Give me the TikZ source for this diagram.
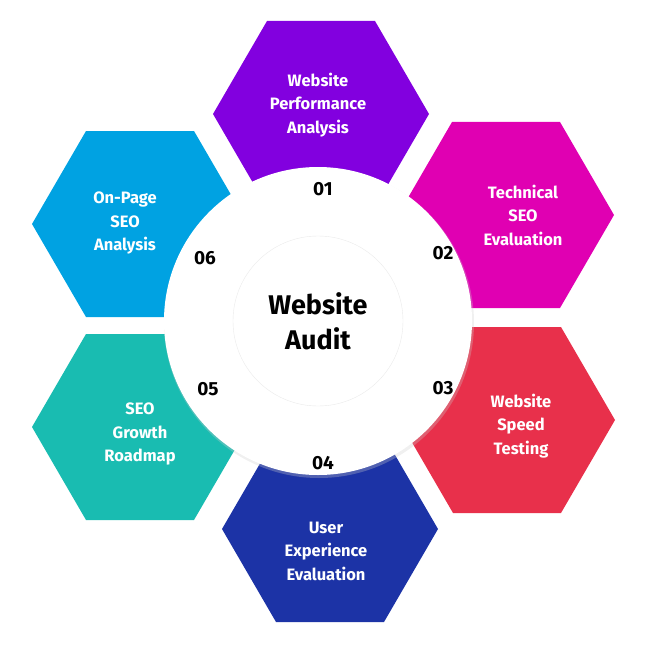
\documentclass[tikz,border=0pt]{standalone}
\usepackage{fontspec}
\setmainfont{Fira Sans}
\begin{document}
\begin{tikzpicture}[x=1pt,y=-1pt,
 lab/.style={text=white,font=\bfseries\fontsize{16.5}{23.5}\selectfont,align=center},
 num/.style={text=black,font=\bfseries\fontsize{19}{20}\selectfont}]
\useasboundingbox (0,0) rectangle (650,650);
\definecolor{c1}{HTML}{8200DF}
\definecolor{c2}{HTML}{E000B2}
\definecolor{c3}{HTML}{E8304B}
\definecolor{c4}{HTML}{1C33A6}
\definecolor{c5}{HTML}{19BCB1}
\definecolor{c6}{HTML}{00A2E2}
\def\hex#1#2#3{\fill[#3] (#1+108,#2) -- (#1+54,#2+93) -- (#1-54,#2+93) -- (#1-108,#2) -- (#1-54,#2-93) -- (#1+54,#2-93) -- cycle;}
\hex{321}{114}{c1}
\hex{506}{215}{c2}
\hex{507}{420}{c3}
\hex{330}{529}{c4}
\hex{140}{427}{c5}
\hex{140}{224}{c6}
\fill[black!20,opacity=0.3] (319,323) circle (155);
\fill[white] (318,321) circle (154);
\draw[black!8] (318,321) circle (85);
\node[lab] (t1) at (318,105) {Website\\Performance\\Analysis};
\node[lab] (t2) at (523,215) {Technical\\SEO\\Evaluation};
\node[lab] (t3) at (521,426) {Website\\Speed\\Testing};
\node[lab] (t4) at (326,551) {User\\Experience\\Evaluation};
\node[lab] (t5) at (140,434) {SEO\\Growth\\Roadmap};
\node[lab] (t6) at (125,223) {On-Page\\SEO\\Analysis};
\node[num] (n1) at (323,189) {01};
\node[num] (n2) at (443,253) {02};
\node[num] (n3) at (443,388) {03};
\node[num] (n4) at (323,463) {04};
\node[num] (n5) at (208,389) {05};
\node[num] (n6) at (205,258) {06};
\node[font=\bfseries\fontsize{27}{35}\selectfont,align=center] (c) at (318,321) {Website\\Audit};
\end{tikzpicture}
\end{document}
